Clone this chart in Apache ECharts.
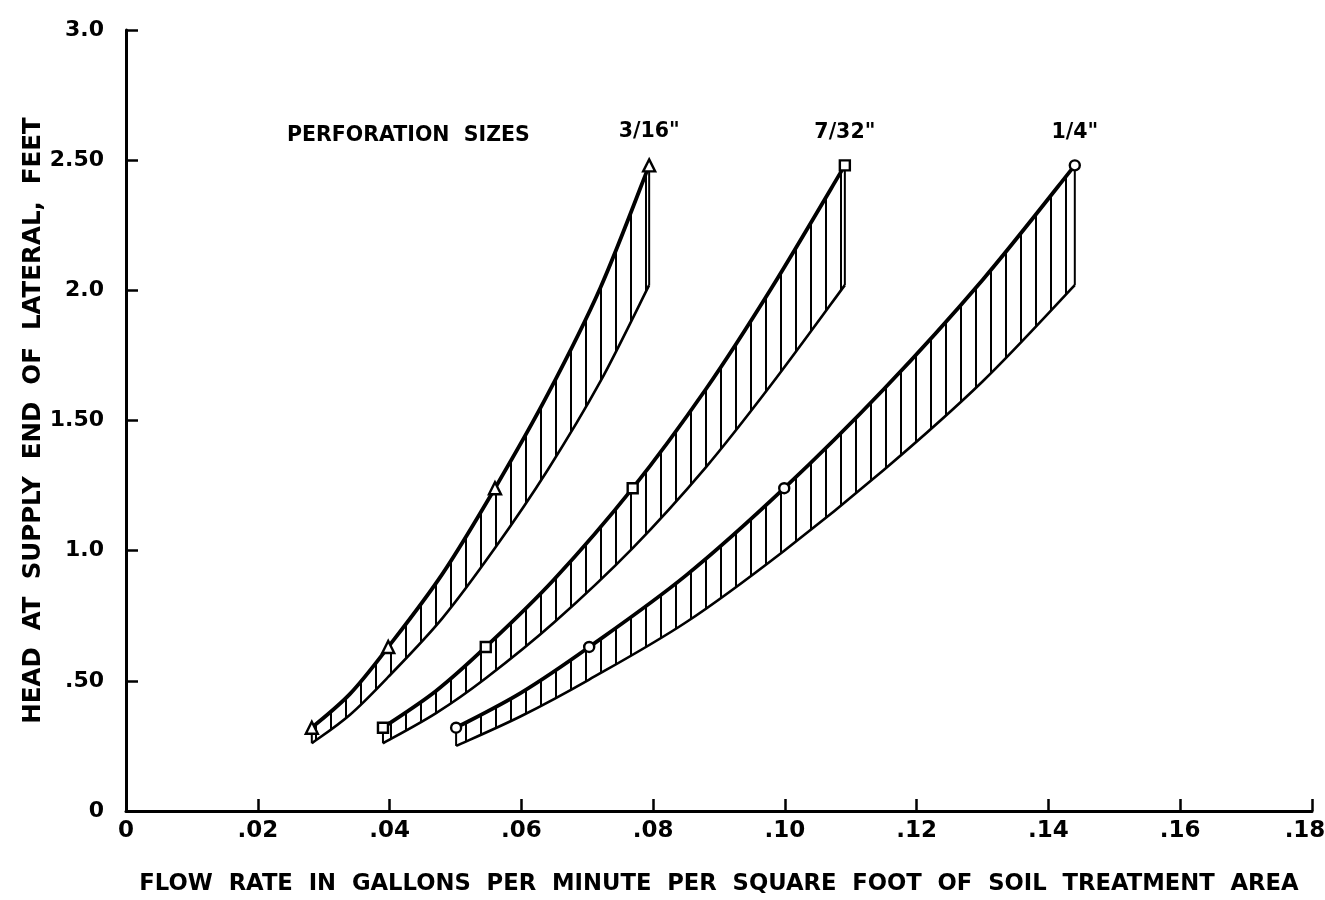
<!DOCTYPE html>
<html>
<head>
<meta charset="utf-8">
<script src="https://cdn.jsdelivr.net/npm/echarts@6/dist/echarts.min.js"></script>
<style>
  html, body { margin: 0; padding: 0; background: #fff; }
  #chart { width: 1325px; height: 900px; }
</style>
</head>
<body>
<div id="chart"></div>
<script>
// tick labels, lettered like the drawing
const xTickLabels = ['0', '.02', '.04', '.06', '.08', '.10', '.12', '.14', '.16', '.18'];
const yTickLabels = ['0', '.50', '1.0', '1.50', '2.0', '2.50', '3.0'];
const sizeNames = ['3/16"', '7/32"', '1/4"'];

// head at the marked points (same for every size)
const markHead = [0.32, 0.63, 1.24, 2.48];

// 3/16" perforations
const flow316 = [0.0282, 0.034, 0.0398, 0.048, 0.056, 0.064, 0.072, 0.0794];
const upper316 = [0.32, 0.45, 0.63, 0.91, 1.24, 1.6, 2.01, 2.48];
const lower316 = [0.26, 0.37, 0.515, 0.74, 1.01, 1.31, 1.65, 2.02];
const markFlow316 = [0.0282, 0.0398, 0.056, 0.0794];

// 7/32" perforations
const flow732 = [0.039, 0.047, 0.0546, 0.065, 0.0769, 0.088, 0.098, 0.1091];
const upper732 = [0.32, 0.46, 0.63, 0.89, 1.24, 1.62, 2.01, 2.48];
const lower732 = [0.26, 0.375, 0.51, 0.725, 1.01, 1.32, 1.64, 2.02];
const markFlow732 = [0.039, 0.0546, 0.0769, 0.1091];

// 1/4" perforations
const flow14 = [0.0501, 0.06, 0.0703, 0.085, 0.0999, 0.115, 0.13, 0.144];
const upper14 = [0.32, 0.455, 0.63, 0.905, 1.24, 1.62, 2.04, 2.48];
const lower14 = [0.25, 0.365, 0.505, 0.725, 1.0, 1.31, 1.65, 2.02];
const markFlow14 = [0.0501, 0.0703, 0.0999, 0.144];

const FONT = 'DejaVu Sans';

// vertical hatching used between the two curves
const hatch = document.createElement('canvas');
hatch.width = 15;
hatch.height = 10;
const hctx = hatch.getContext('2d');
hctx.fillStyle = '#000';
hctx.fillRect(0, 0, 2, 10);

// smooth path through pixel points (catmull-rom as cubic beziers)
function smoothPath(pts, start) {
  let d = (start ? 'M' : 'L') + pts[0][0] + ' ' + pts[0][1];
  for (let i = 0; i < pts.length - 1; i++) {
    const p0 = pts[Math.max(i - 1, 0)];
    const p1 = pts[i];
    const p2 = pts[i + 1];
    const p3 = pts[Math.min(i + 2, pts.length - 1)];
    const c1x = p1[0] + (p2[0] - p0[0]) / 6;
    const c1y = p1[1] + (p2[1] - p0[1]) / 6;
    const c2x = p2[0] - (p3[0] - p1[0]) / 6;
    const c2y = p2[1] - (p3[1] - p1[1]) / 6;
    d += ' C' + c1x + ' ' + c1y + ' ' + c2x + ' ' + c2y + ' ' + p2[0] + ' ' + p2[1];
  }
  return d;
}

function bandSeries(name, flow, upper, lower, markFlow, symbol) {
  const last = flow.length - 1;
  return [
    {
      // hatched band between the upper and the lower curve
      name: name,
      type: 'custom',
      data: [[flow[0], upper[0]]],
      renderItem: function (params, api) {
        const up = flow.map((x, i) => api.coord([x, upper[i]]));
        const lo = flow.map((x, i) => api.coord([x, lower[i]]));
        const fillPath = smoothPath(up, true) + ' ' + smoothPath(lo.slice().reverse(), false) + ' Z';
        return {
          type: 'group',
          children: [
            { type: 'path', shape: { pathData: fillPath }, style: { fill: { image: hatch, repeat: 'repeat' }, stroke: 'none' } },
            { type: 'path', shape: { pathData: smoothPath(lo, true) }, style: { fill: 'none', stroke: '#000', lineWidth: 2.6 } },
            { type: 'path', shape: { pathData: smoothPath(up, true) }, style: { fill: 'none', stroke: '#000', lineWidth: 3.8 } },
            { type: 'line', shape: { x1: lo[0][0], y1: lo[0][1], x2: up[0][0], y2: up[0][1] }, style: { stroke: '#000', lineWidth: 2 } },
            { type: 'line', shape: { x1: lo[last][0], y1: lo[last][1], x2: up[last][0], y2: up[last][1] }, style: { stroke: '#000', lineWidth: 2 } },
          ],
        };
      },
      z: 3,
    },
    {
      type: 'scatter',
      symbol: symbol,
      symbolSize: symbol === 'triangle' ? 12 : 10,
      data: markFlow.map((x, i) => {
        const item = { value: [x, markHead[i]] };
        if (i === markFlow.length - 1) {
          item.label = {
            show: true,
            position: 'top',
            distance: 16,
            formatter: name,
            color: '#000',
            fontFamily: FONT,
            fontWeight: 'bold',
            fontSize: 20.5,
          };
        }
        return item;
      }),
      itemStyle: { color: '#fff', borderColor: '#000', borderWidth: 2.4, opacity: 1 },
      z: 6,
    },
  ];
}

const chart = echarts.init(document.getElementById('chart'));
chart.setOption({
  backgroundColor: '#fff',
  animation: false,
  grid: { left: 126, right: 13, top: 30, bottom: 89, outerBoundsMode: 'none', containLabel: false },
  xAxis: {
    type: 'value',
    min: 0,
    max: 0.18,
    interval: 0.02,
    name: 'FLOW  RATE  IN  GALLONS  PER  MINUTE  PER  SQUARE  FOOT  OF  SOIL  TREATMENT  AREA',
    nameLocation: 'middle',
    nameGap: 62,
    nameMoveOverlap: false,
    nameTextStyle: { color: '#000', fontFamily: FONT, fontWeight: 'bold', fontSize: 22.7 },
    axisLine: { lineStyle: { color: '#000', width: 3 } },
    axisTick: { inside: true, length: 12, lineStyle: { color: '#000', width: 2.5 } },
    splitLine: { show: false },
    axisLabel: {
      color: '#000',
      fontFamily: FONT,
      fontWeight: 'bold',
      fontSize: 23,
      margin: 9,
      formatter: (v) => (Math.round(v / 0.02) === 9 ? '{e|' + xTickLabels[9] + '}' : xTickLabels[Math.round(v / 0.02)]),
      rich: {
        // last label is pulled left so it stays on the page
        e: { color: '#000', fontFamily: FONT, fontWeight: 'bold', fontSize: 23, padding: [0, 14, 0, 0] },
      },
    },
  },
  yAxis: {
    type: 'value',
    min: 0,
    max: 3,
    interval: 0.5,
    name: 'HEAD  AT  SUPPLY  END  OF  LATERAL,  FEET',
    nameLocation: 'middle',
    nameGap: 80,
    nameMoveOverlap: false,
    nameTextStyle: { color: '#000', fontFamily: FONT, fontWeight: 'bold', fontSize: 24.5 },
    axisLine: { lineStyle: { color: '#000', width: 3 } },
    axisTick: { inside: true, length: 12, lineStyle: { color: '#000', width: 2.5 } },
    splitLine: { show: false },
    axisLabel: {
      color: '#000',
      fontFamily: FONT,
      fontWeight: 'bold',
      fontSize: 22,
      margin: 22,
      formatter: (v) => yTickLabels[Math.round(v / 0.5)],
    },
  },
  graphic: [
    {
      type: 'text',
      left: 287,
      top: 125,
      style: { text: 'PERFORATION  SIZES', fill: '#000', font: 'bold 20.5px "DejaVu Sans"' },
    },
  ],
  series: [
    ...bandSeries(sizeNames[0], flow316, upper316, lower316, markFlow316, 'triangle'),
    ...bandSeries(sizeNames[1], flow732, upper732, lower732, markFlow732, 'rect'),
    ...bandSeries(sizeNames[2], flow14, upper14, lower14, markFlow14, 'circle'),
  ],
});
window.onresize = function () {
  chart.resize();
};
</script>
</body>
</html>
